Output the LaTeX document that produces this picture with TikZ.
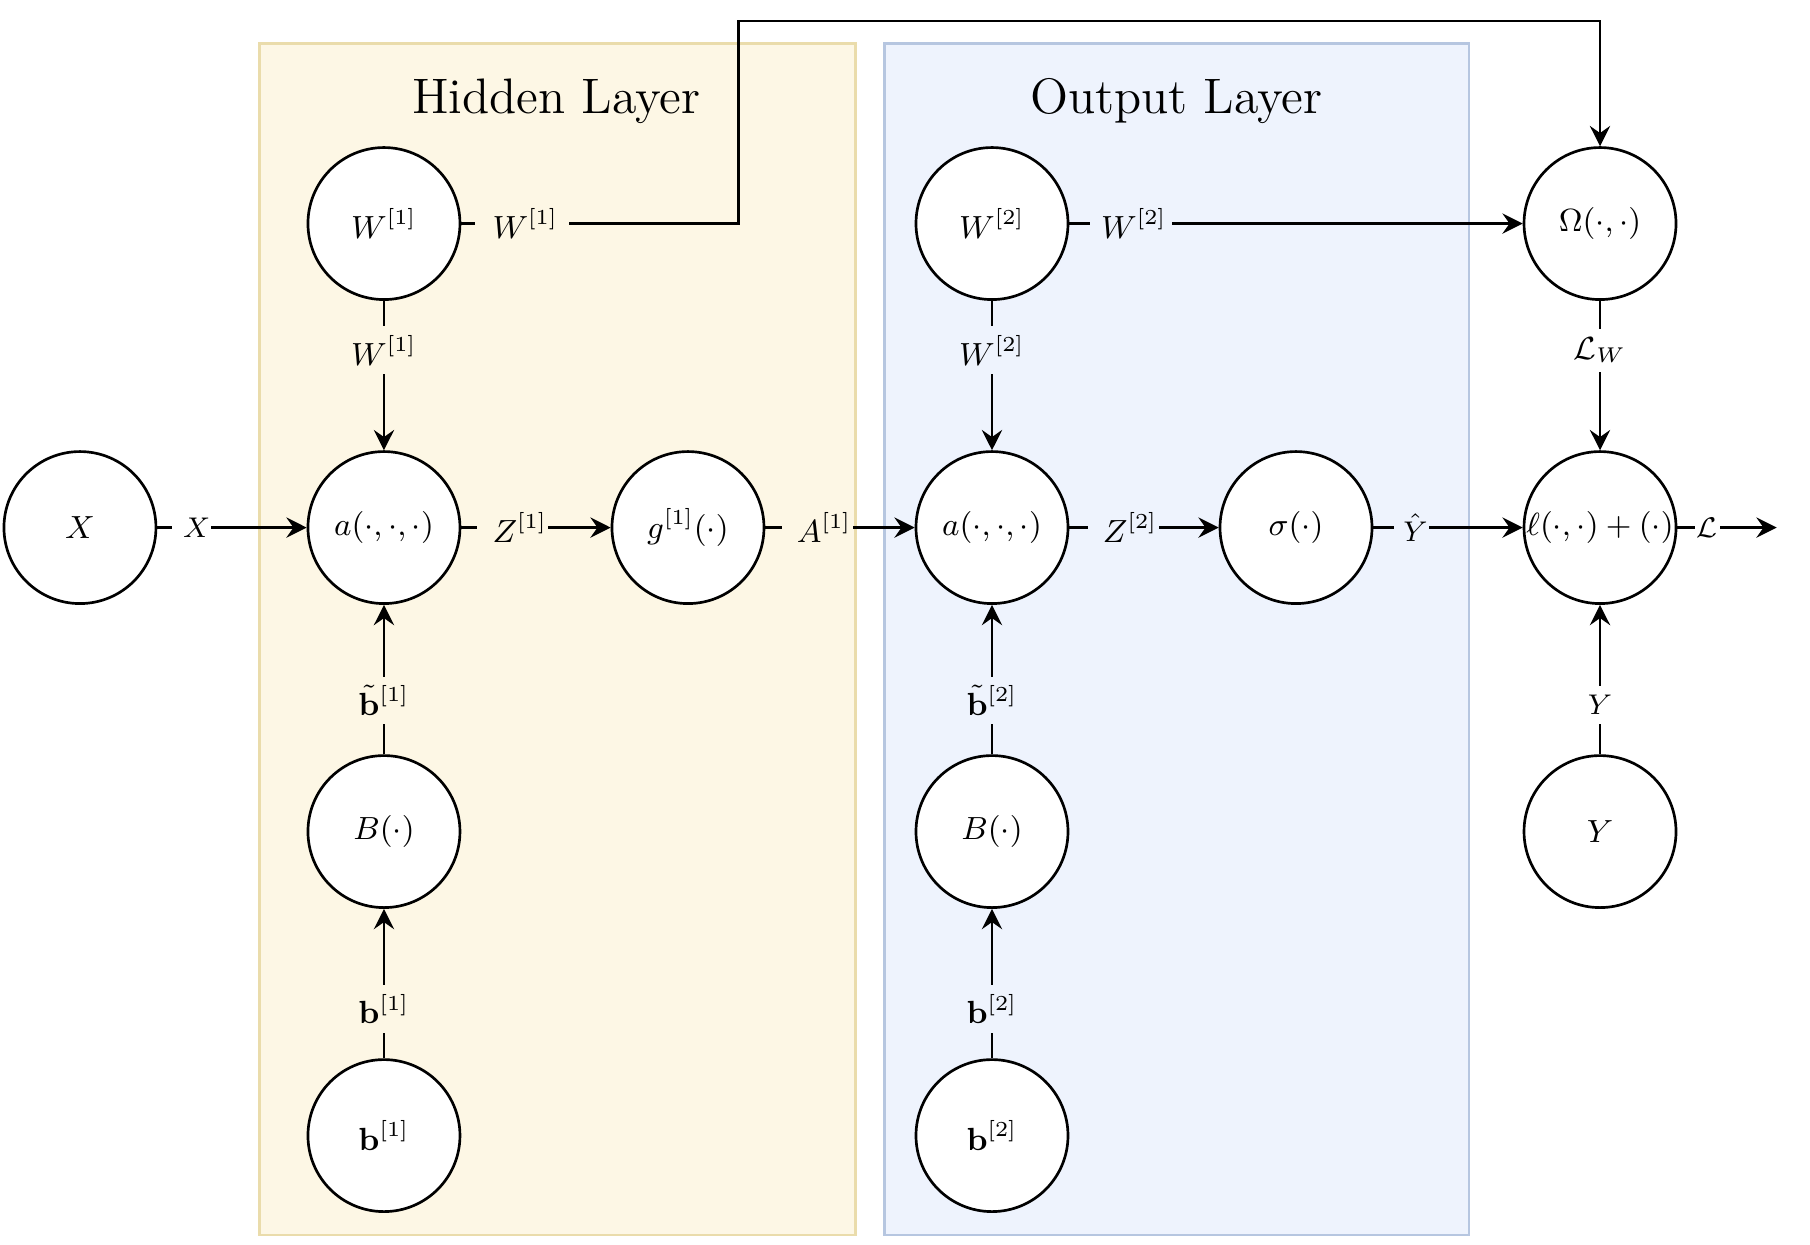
\documentclass[tikz,border=0pt]{standalone}
\usepackage{amsmath,amssymb}
\usetikzlibrary{arrows.meta}
\definecolor{hidfill}{HTML}{FDF7E5}
\definecolor{hiddraw}{HTML}{EADCAB}
\definecolor{outfill}{HTML}{EEF3FD}
\definecolor{outdraw}{HTML}{B6C6E0}
\tikzset{
	unit/.style={circle, draw, line width=0.75pt, fill=white, minimum size=1.5cm, inner sep=0pt, font=\fontsize{9}{11}\selectfont},
	lbl/.style={fill=#1, inner xsep=2pt, inner ysep=2.5pt, font=\fontsize{9}{11}\selectfont},
	lbl/.default=white,
	slbl/.style={lbl=#1, font=\fontsize{8}{10}\selectfont},
	slbl/.default=white,
	lpad/.style={inner xsep=0.3pt, execute at begin node={\hspace{#1}}},
	flow/.style={line width=0.75pt, -{Stealth[length=2mm, width=2mm, inset=0.7mm]}},
	title/.style={anchor=base, font=\fontsize{14}{17}\selectfont}
}

\begin{document}
\begin{tikzpicture}
			%%%%% START %%%%%
			\useasboundingbox (-0.789, -7.079) rectangle (17.072, 5.206);
			
			% layers
			\draw[line width=0.75pt, draw=hiddraw, fill=hidfill] (1.773, -6.98) rectangle (7.652, 4.776);
			\draw[line width=0.75pt, draw=outdraw, fill=outfill] (7.942, -6.98) rectangle (13.707, 4.776);
			\node[title] at (4.70, 4.09) {Hidden Layer};
			\node[title] at (10.82, 4.09) {Output Layer};
			
			% units
			\node[unit] (X) at (0, 0) {$X$};
			\node[unit] (a1) at (3, 0) {$a(\cdot,\cdot,\cdot)$};
			\node[unit] (g1) at (6, 0) {$g^{[1]}(\cdot)$};
			\node[unit] (a2) at (9, 0) {$a(\cdot,\cdot,\cdot)$};
			\node[unit] (sig) at (12, 0) {$\sigma(\cdot)$};
			\node[unit] (loss) at (15, 0) {$\ell(\cdot,\cdot)+(\cdot)$};
			
			\node[unit] (W1) at (3, 3) {$W^{[1]}$};
			\node[unit] (W2) at (9, 3) {$W^{[2]}$};
			\node[unit] (Om) at (15, 3) {$\Omega(\cdot,\cdot)$};
			
			\node[unit] (B1) at (3, -3) {$B(\cdot)$};
			\node[unit] (B2) at (9, -3) {$B(\cdot)$};
			\node[unit] (Y) at (15, -3) {$Y$};
			
			\node[unit] (b1) at (3, -6) {$\mathbf{b}^{[1]}$};
			\node[unit] (b2) at (9, -6) {$\mathbf{b}^{[2]}$};
			
			\coordinate (turn) at (6.5, 5);
			\coordinate (out) at (16.743, 0);
			
			% forward pass
			\draw[flow] (X) -- node[slbl, lpad=2.8pt, pos=0.23] {$X$} (a1);
			\draw[flow] (a1) -- node[lbl=hidfill, lpad=4pt, pos=0.344] {$Z^{[1]}$} (g1);
			\draw[flow] (g1) -- node[lbl=hidfill, lpad=4pt, pos=0.347] {$A^{[1]}$} (a2);
			\draw[flow] (a2) -- node[lbl=outfill, lpad=4pt, pos=0.36] {$Z^{[2]}$} (sig);
			\draw[flow] (sig) -- node[slbl=outfill, lpad=2.3pt, pos=0.255] {$\hat{Y}$} (loss);
			\draw[flow] (loss) -- node[slbl, inner xsep=0.6pt, pos=0.3] {$\mathcal{L}$} (out);
			
			% weights
			\draw[flow] (W1) -- node[lbl=hidfill, pos=0.33] {$W^{[1]}$} (a1);
			\draw[flow] (W2) -- node[lbl=outfill, pos=0.33] {$W^{[2]}$} (a2);
			\draw[flow] (W1) -- node[lbl=hidfill, inner xsep=3pt, execute at begin node={\hspace{2pt}}, pos=0.218] {$W^{[1]}$} (W1 -| turn) -- (turn) -| (Om);
			\draw[flow] (W2) -- node[lbl=outfill, inner xsep=1.6pt, execute at begin node={\hspace{1.6pt}}, pos=0.136] {$W^{[2]}$} (Om);
			\draw[flow] (Om) -- node[lbl, pos=0.33] {$\mathcal{L}_W$} (loss);
			
			% biases
			\draw[flow] (B1) -- node[lbl=hidfill, pos=0.36] {$\tilde{\mathbf{b}}^{[1]}$} (a1);
			\draw[flow] (b1) -- node[lbl=hidfill, pos=0.33] {$\mathbf{b}^{[1]}$} (B1);
			\draw[flow] (B2) -- node[lbl=outfill, pos=0.36] {$\tilde{\mathbf{b}}^{[2]}$} (a2);
			\draw[flow] (b2) -- node[lbl=outfill, pos=0.33] {$\mathbf{b}^{[2]}$} (B2);
			
			\draw[flow] (Y) -- node[slbl, pos=0.33] {$Y$} (loss);
			
			%%%%% END %%%%%
\end{tikzpicture}
\end{document}
